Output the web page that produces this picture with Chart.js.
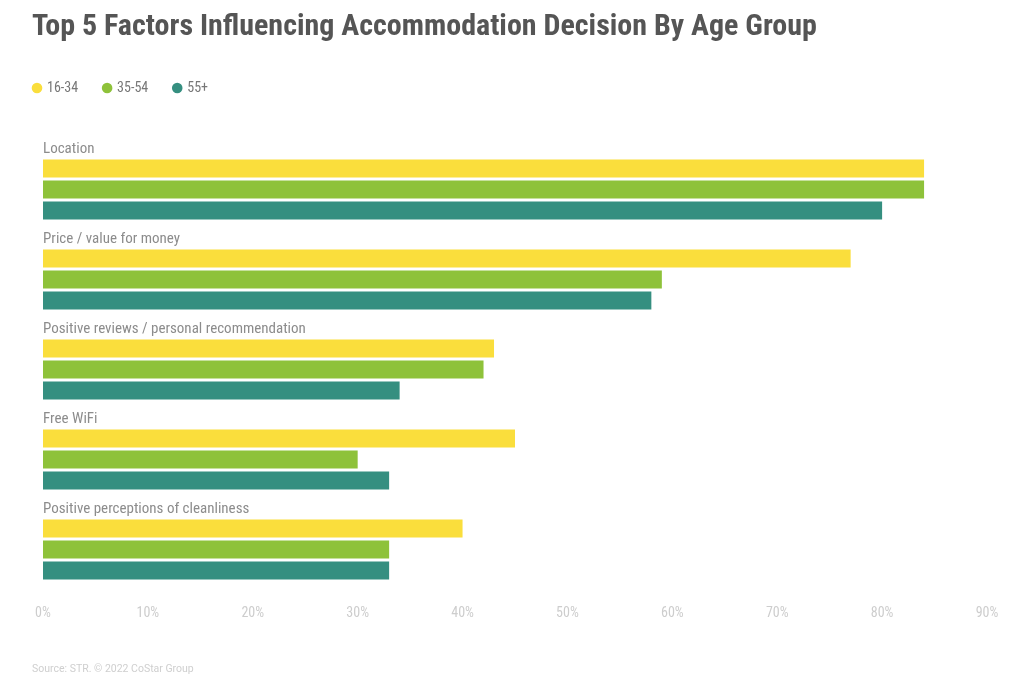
<!DOCTYPE html>
<html>
<head>
<meta charset="utf-8">
<script src="https://cdn.jsdelivr.net/npm/chart.js@4"></script>
<style>
  html, body { margin: 0; padding: 0; background: #ffffff; }
  #wrap { width: 1024px; height: 694px; position: relative; }
</style>
</head>
<body>
<div id="wrap"><canvas id="c"></canvas></div>
<script>
const categories = [
  "Location",
  "Price / value for money",
  "Positive reviews / personal recommendation",
  "Free WiFi",
  "Positive perceptions of cleanliness"
];
const seriesNames = ["16-34", "35-54", "55+"];
const age16to34 = [84, 77, 43, 45, 40];
const age35to54 = [84, 59, 42, 30, 33];
const age55plus = [80, 58, 34, 33, 33];
const xTicks = [0, 10, 20, 30, 40, 50, 60, 70, 80, 90];
const colors = ["#FADE3C", "#8EC23A", "#358F80"];

const legendTweak = {
  id: 'legendTweak',
  beforeInit(chart) {
    const origFit = chart.legend.fit;
    chart.legend.fit = function () {
      origFit.bind(chart.legend)();
      this.height += 29;
    };
  },
  afterLayout(chart) {
    chart.legend.left -= 24;
  }
};

const spacer = { label: "", data: categories.map(() => null), backgroundColor: "rgba(0,0,0,0)" };

new Chart(document.getElementById('c'), {
  type: 'bar',
  plugins: [legendTweak],
  data: {
    labels: categories,
    datasets: [
      spacer,
      { label: seriesNames[0], data: age16to34, backgroundColor: colors[0] },
      { label: seriesNames[1], data: age35to54, backgroundColor: colors[1] },
      { label: seriesNames[2], data: age55plus, backgroundColor: colors[2] }
    ]
  },
  options: {
    indexAxis: 'y',
    responsive: true,
    maintainAspectRatio: false,
    animation: false,
    categoryPercentage: 0.933,
    barPercentage: 0.86,
    layout: { padding: { left: 32, right: 37, top: 0, bottom: 0 } },
    scales: {
      x: {
        min: 0, max: 90,
        afterBuildTicks(scale) { scale.ticks = xTicks.map(v => ({ value: v })); },
        grid: { display: false, drawTicks: false },
        border: { display: false },
        ticks: {
          callback: (v) => v + '%',
          color: '#cdcdcd',
          padding: 21,
          font: { family: "'Roboto Condensed', Roboto", size: 14 }
        }
      },
      y: {
        afterFit(scale) { scale.width = 11; },
        grid: { display: false, drawTicks: false },
        border: { display: false },
        ticks: {
          mirror: true,
          padding: 0,
          labelOffset: -29.5,
          color: '#8c8c8c',
          font: { family: "'Roboto Condensed', Roboto", size: 15 }
        }
      }
    },
    plugins: {
      title: {
        display: true,
        text: 'Top 5 Factors Influencing Accommodation Decision By Age Group',
        align: 'start',
        color: '#555555',
        font: { family: "'Roboto Condensed', Roboto", size: 30, weight: 'bold' },
        padding: { top: 9, bottom: 10 }
      },
      subtitle: {
        display: true,
        position: 'bottom',
        align: 'start',
        text: 'Source: STR. \u00a9 2022 CoStar Group',
        color: '#cfcfcf',
        font: { family: 'Roboto', size: 10.5 },
        padding: { top: 20.5, bottom: 18 }
      },
      legend: {
        align: 'start',
        labels: {
          filter: (item) => item.text !== '',
          usePointStyle: true,
          pointStyle: 'circle',
          boxWidth: 6,
          boxHeight: 7.5,
          color: '#777777',
          font: { family: "'Roboto Condensed', Roboto", size: 14 },
          padding: 26
        }
      },
      tooltip: { enabled: false }
    }
  }
});
</script>
</body>
</html>
